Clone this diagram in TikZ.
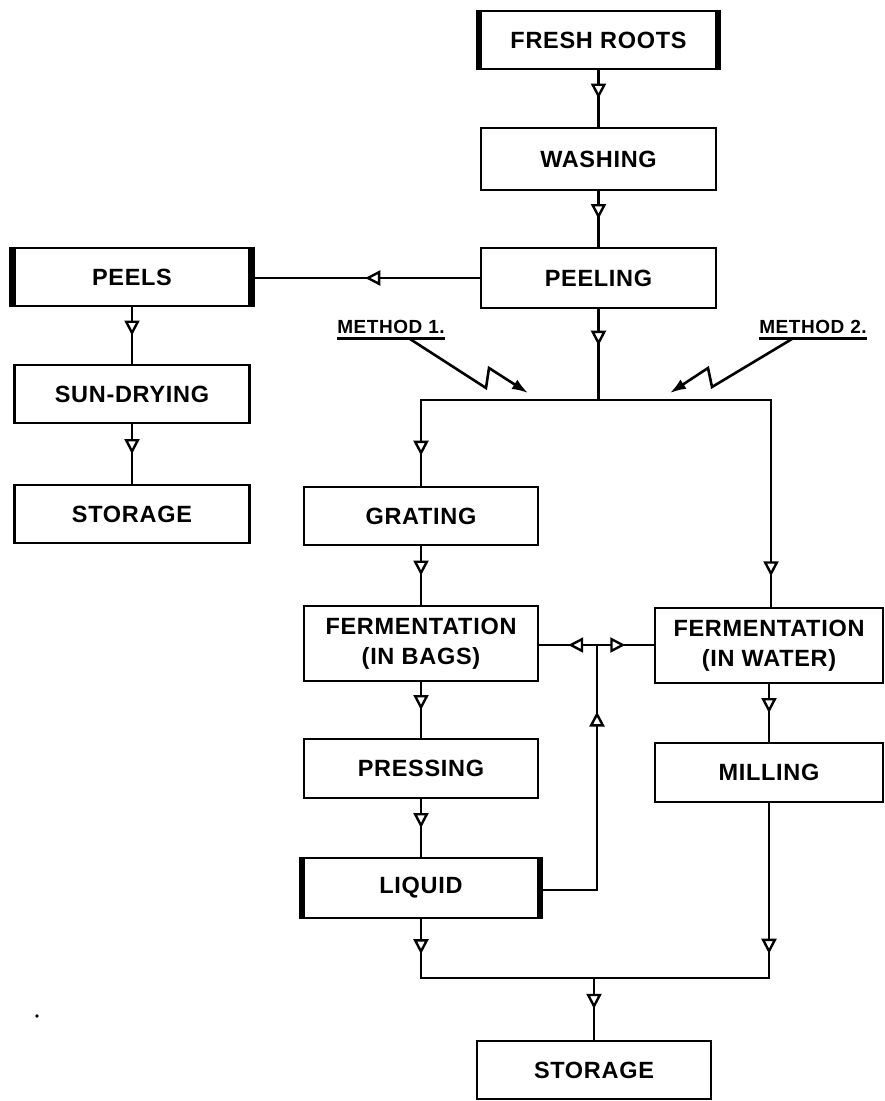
\documentclass[tikz,border=0pt]{standalone}
\usepackage{fontspec}
\setmainfont{Liberation Sans}[LetterSpace=3.0]
\usetikzlibrary{arrows.meta,decorations.markings}
\newcommand\labfont{\fontsize{23.5}{30}\selectfont\bfseries}
\newcommand\methfont{\fontsize{19}{22}\selectfont\bfseries}
\begin{document}
\begin{tikzpicture}[x=1pt,y=-1pt,
  box/.style={draw, line width=2.8pt, inner sep=0pt, align=center, font=\labfont,
              minimum width=235pt, minimum height=58pt},
  conn/.style={line width=2.8pt},
  midarrow/.style={postaction={decorate}, decoration={markings,
     mark=at position #1 with {\arrow{Triangle[length=15pt,width=15pt,fill=white,line width=2.4pt]}}}},
  midarrow/.default=0.5,
  bolt/.style={line width=2.6pt, -{Latex[length=16pt,width=11pt]}},
  thickedge/.style={line width=5.5pt}]
\useasboundingbox (0,0) rectangle (885,1101);

% boxes
\node[box] (fresh) at (598.5,40) {FRESH ROOTS};
\node[box, minimum height=62pt] (washing) at (598.5,159) {WASHING};
\node[box, minimum height=60pt] (peeling) at (598.5,278) {PEELING};
\node[box] (peels) at (132,277) {PEELS};
\node[box] (sun) at (132,394) {SUN-DRYING};
\node[box] (store1) at (132,514) {STORAGE};
\node[box, minimum width=234pt] (grating) at (421,516) {GRATING};
\node[box, minimum width=234pt, minimum height=75pt] (bags) at (421,643.5) {FERMENTATION\\(IN BAGS)};
\node[box, minimum width=234pt, minimum height=59pt] (pressing) at (421,768.5) {PRESSING};
\node[box, minimum width=234pt, minimum height=60pt] (liquid) at (421,888) {LIQUID};
\node[box, minimum width=228pt, minimum height=75pt] (water) at (769,645.5) {FERMENTATION\\(IN WATER)};
\node[box, minimum width=228pt, minimum height=59pt] (milling) at (769,772.5) {MILLING};
\node[box, minimum width=234pt] (store2) at (594,1070) {STORAGE};

% thick side edges
\foreach \n in {fresh,peels,liquid}{
  \draw[thickedge] ([xshift=-1pt]\n.north west) -- ([xshift=-1pt]\n.south west);
  \draw[thickedge] ([xshift=1pt]\n.north east) -- ([xshift=1pt]\n.south east);
}

% junction points
\coordinate (j1) at (598.5,400);
\coordinate (jL) at (421,400);
\coordinate (jR) at (771,400);
\coordinate (j2) at (597,645);
\coordinate (j3) at (597,890);
\coordinate (jB1) at (421,978);
\coordinate (jB2) at (769,978);
\coordinate (jB3) at (594,978);

% connectors
\draw[conn, midarrow] (fresh) -- (washing);
\draw[conn, midarrow] (washing) -- (peeling);
\draw[conn, midarrow] (peeling.west) -- (peels.east |- peeling.west);
\draw[conn, midarrow] (peels) -- (sun);
\draw[conn, midarrow] (sun) -- (store1);
\draw[conn, midarrow=0.4] (peeling) -- (j1);
\draw[conn, midarrow=0.886] (j1) -- (jL) -- (grating);
\draw[conn, midarrow=0.92] (j1) -- (jR) -- (jR |- water.north);
\draw[conn, midarrow] (grating) -- (bags);
\draw[conn, midarrow] (bags) -- (pressing);
\draw[conn, midarrow] (pressing) -- (liquid);
\draw[conn, midarrow] (j2) -- (bags.east |- j2);
\draw[conn, midarrow] (j2) -- (water.west |- j2);
\draw[conn, midarrow=0.78] (liquid.east |- j3) -- (j3) -- (j2);
\draw[conn, midarrow] (water) -- (milling);
\draw[conn, midarrow=0.15] (liquid) -- (jB1) -- (jB3);
\draw[conn, midarrow=0.43] (milling) -- (jB2) -- (jB3);
\draw[conn, midarrow] (jB3) -- (store2);

% method labels
\node[font=\methfont, anchor=base, inner sep=0pt] (m1) at (391,333) {METHOD 1.};
\node[font=\methfont, anchor=base, inner sep=0pt] (m2) at (813,333) {METHOD 2.};
\draw[line width=2.4pt] ([yshift=-5pt]m1.south west) -- ([yshift=-5pt]m1.south east);
\draw[line width=2.4pt] ([yshift=-5pt]m2.south west) -- ([yshift=-5pt]m2.south east);

\coordinate (a1) at (410,339);
\coordinate (a2) at (486,388);
\coordinate (a3) at (489,368);
\coordinate (a4) at (528,393);
\draw[bolt] (a1) -- (a2) -- (a3) -- (a4);
\coordinate (b1) at (792,339);
\coordinate (b2) at (712,387);
\coordinate (b3) at (708,368);
\coordinate (b4) at (670,393);
\draw[bolt] (b1) -- (b2) -- (b3) -- (b4);

% stray dot
\fill (37,1016) circle (1.8);
\end{tikzpicture}
\end{document}
